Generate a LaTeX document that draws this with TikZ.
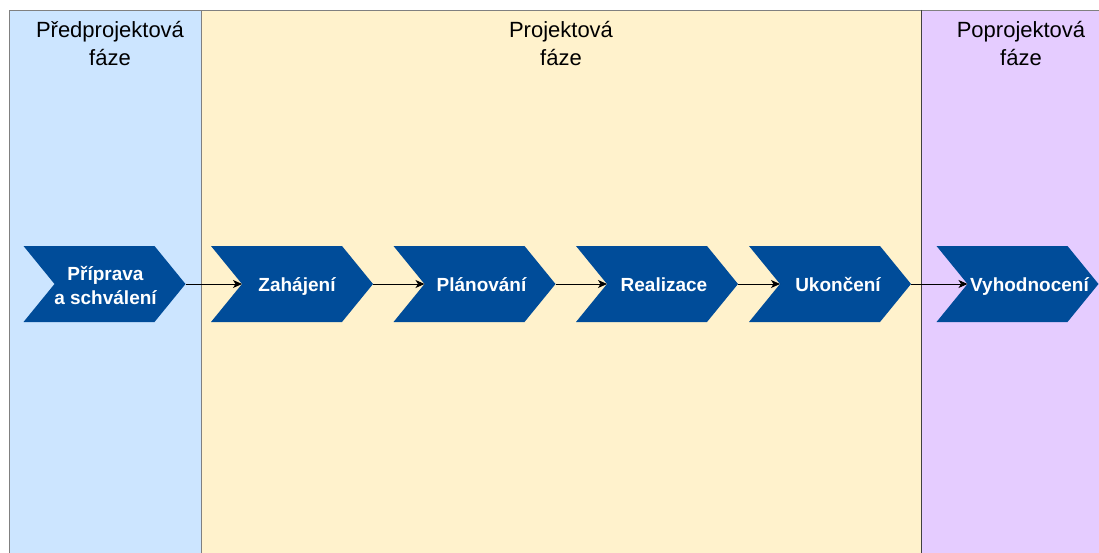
\documentclass[tikz,border=0pt]{standalone}
\usepackage{fontspec}
\setmainfont{Liberation Sans}
\usetikzlibrary{arrows.meta,calc}
\definecolor{laneblue}{HTML}{CCE5FF}
\definecolor{laneyellow}{HTML}{FFF2CC}
\definecolor{lanepurple}{HTML}{E5CCFF}
\definecolor{chevblue}{HTML}{004C99}
\definecolor{laneline}{HTML}{808080}
\definecolor{darkline}{HTML}{404040}
\tikzset{
  lane/.style={draw=laneline, line width=0.8pt},
  head/.style={font=\fontsize{22}{28}\selectfont, align=center, text=black, inner sep=0},
  chev/.style={minimum width=162, minimum height=76, inner sep=0, outer sep=0,
    path picture={
      \fill[chevblue] (path picture bounding box.north west)
        -- ([xshift=-31]path picture bounding box.north east)
        -- (path picture bounding box.east)
        -- ([xshift=-31]path picture bounding box.south east)
        -- (path picture bounding box.south west)
        -- ([xshift=31]path picture bounding box.west) -- cycle;}},
  lbl/.style={font=\fontsize{19}{24}\selectfont\bfseries, text=white, align=center, inner sep=0},
  lbl1/.style={lbl, anchor=base},
  flow/.style={draw=black, line width=0.8pt, -{Stealth[length=9pt,width=8pt,inset=2.5pt]}}
}
\begin{document}
\begin{tikzpicture}[x=1pt,y=-1pt]
\useasboundingbox (0,0) rectangle (1099,553);
\fill[white] (0,0) rectangle (1099,553);
% lanes
\filldraw[lane, fill=laneblue] (9,10) rectangle (201,570);
\filldraw[lane, fill=laneyellow] (201,10) rectangle (921,570);
\filldraw[lane, fill=lanepurple] (921,10) rectangle (1130,570);
\draw[darkline, line width=0.8pt] (921,10) -- (921,570);
% headers
\node[head] (h1) at (110,44) {Předprojektová\\fáze};
\node[head] (h2) at (561,44) {Projektová\\fáze};
\node[head] (h3) at (1021,44) {Poprojektová\\fáze};
% chevrons
\node[chev] (c1) at (104.5,284) {};
\node[chev] (c2) at (292,284) {};
\node[chev] (c3) at (474.5,284) {};
\node[chev] (c4) at (657,284) {};
\node[chev] (c5) at (830,284) {};
\node[chev] (c6) at (1017.5,284) {};
% labels
\node[lbl] (t1) at ([xshift=1,yshift=-1]c1.center) {Příprava\\a schválení};
\node[lbl1] (t2) at ([xshift=5,yshift=-7]c2.center) {Zahájení};
\node[lbl1] (t3) at ([xshift=7,yshift=-7]c3.center) {Plánování};
\node[lbl1] (t4) at ([xshift=7,yshift=-7]c4.center) {Realizace};
\node[lbl1] (t5) at ([xshift=8,yshift=-7]c5.center) {Ukončení};
\node[lbl1] (t6) at ([xshift=12,yshift=-7]c6.center) {Vyhodnocení};
% connectors
\draw[flow] (c1.east) -- ([xshift=31]c2.west);
\draw[flow] (c2.east) -- ([xshift=31]c3.west);
\draw[flow] (c3.east) -- ([xshift=31]c4.west);
\draw[flow] (c4.east) -- ([xshift=31]c5.west);
\draw[flow] (c5.east) -- ([xshift=31]c6.west);
\end{tikzpicture}
\end{document}
